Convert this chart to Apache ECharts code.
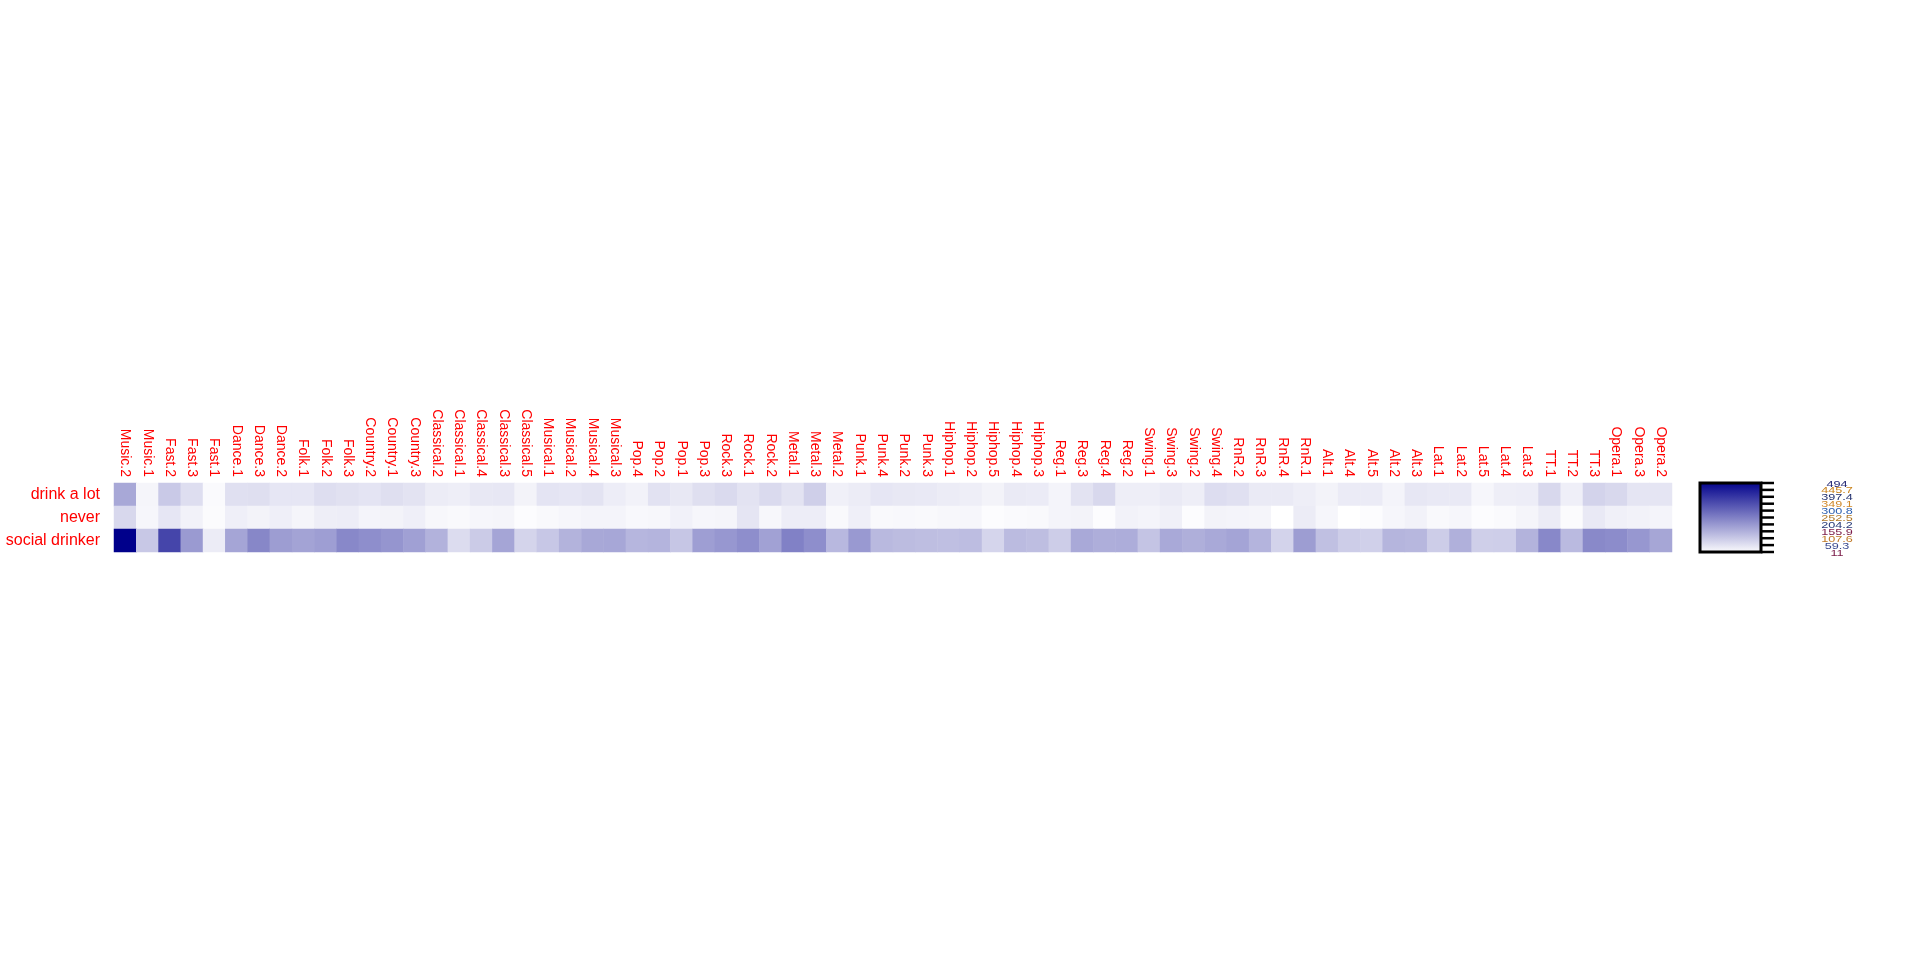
<!DOCTYPE html>
<html>
<head>
<meta charset="utf-8">
<script src="https://cdn.jsdelivr.net/npm/echarts@6/dist/echarts.min.js"></script>
<style>
html,body{margin:0;padding:0;background:#fff;}
#c{width:1920px;height:960px;}
</style>
</head>
<body>
<div id="c"></div>
<script>
const categories = ["Music.2","Music.1","Fast.2","Fast.3","Fast.1","Dance.1","Dance.3","Dance.2","Folk.1","Folk.2","Folk.3","Country.2","Country.1","Country.3","Classical.2","Classical.1","Classical.4","Classical.3","Classical.5","Musical.1","Musical.2","Musical.4","Musical.3","Pop.4","Pop.2","Pop.1","Pop.3","Rock.3","Rock.1","Rock.2","Metal.1","Metal.3","Metal.2","Punk.1","Punk.4","Punk.2","Punk.3","Hiphop.1","Hiphop.2","Hiphop.5","Hiphop.4","Hiphop.3","Reg.1","Reg.3","Reg.4","Reg.2","Swing.1","Swing.3","Swing.2","Swing.4","RnR.2","RnR.3","RnR.4","RnR.1","Alt.1","Alt.4","Alt.5","Alt.2","Alt.3","Lat.1","Lat.2","Lat.5","Lat.4","Lat.3","TT.1","TT.2","TT.3","Opera.1","Opera.3","Opera.2"];
const rows = ["drink a lot","never","social drinker"];

const drinkALot = [176,30,113,73,20,70,72,58,58,73,68,62,72,64,47,43,55,57,34,62,58,64,45,36,66,55,72,81,64,81,64,102,39,47,58,55,53,47,43,34,51,49,32,64,85,43,43,51,43,75,70,51,51,43,34,49,49,32,57,53,53,28,43,45,85,41,95,85,60,60];
const never = [85,28,58,36,19,41,34,41,30,43,45,32,34,41,26,22,28,30,17,22,28,32,32,24,26,38,28,30,60,26,45,45,22,41,22,24,22,26,28,17,20,22,32,34,17,36,32,39,17,34,32,30,11,47,28,11,17,28,36,22,28,17,20,30,47,19,53,39,36,32];
const socialDrinker = [494,115,364,202,47,181,238,197,185,195,236,225,212,191,157,77,110,181,93,117,155,176,178,149,153,119,195,208,225,189,250,225,145,204,144,138,134,132,136,91,140,134,106,174,165,167,123,174,163,174,183,153,95,197,130,106,100,151,147,106,161,102,104,155,236,142,234,229,208,180];

const legendTicks = [494,445.7,397.4,349.1,300.8,252.5,204.2,155.9,107.6,59.3,11];
const legendTickColors = ["#1b1f6e","#c9821a","#22306e","#d0892a","#2b5fb0","#b07a2a","#283a78","#7a1a48","#c07a28","#3a4a90","#7a1a48"];

const valueRows = [drinkALot, never, socialDrinker];
const data = [];
valueRows.forEach((arr, yi) => arr.forEach((v, xi) => data.push([xi, yi, v])));

const vMin = Math.min(...legendTicks), vMax = Math.max(...legendTicks);

// legend geometry
const LX = 1700, LY = 483, LW = 61, LH = 69;
const graphics = [];
graphics.push({
  type: 'rect',
  shape: {x: LX, y: LY, width: LW, height: LH},
  style: {
    fill: new echarts.graphic.LinearGradient(0, 0, 0, 1, [
      {offset: 0, color: '#00008B'},
      {offset: 1, color: '#FFFFFF'}
    ]),
    stroke: '#000', lineWidth: 3
  },
  z: 10
});
legendTicks.forEach((t, i) => {
  const y = LY + (vMax - t) / (vMax - vMin) * LH;
  graphics.push({
    type: 'line',
    shape: {x1: LX + LW, y1: y, x2: LX + LW + 13, y2: y},
    style: {stroke: '#000', lineWidth: 2.5},
    z: 10
  });
  graphics.push({
    type: 'text',
    x: 1837, y: y + 1,
    scaleX: 1.15, scaleY: 0.85,
    style: {
      text: String(t),
      fill: legendTickColors[i],
      font: '11px "Liberation Sans", Arial, sans-serif',
      textAlign: 'center',
      textVerticalAlign: 'middle'
    },
    z: 11
  });
});

const chart = echarts.init(document.getElementById('c'), null, {renderer: 'canvas'});
chart.setOption({
  animation: false,
  backgroundColor: '#ffffff',
  grid: {left: 114, right: 248, top: 483, height: 69, containLabel: false},
  xAxis: {
    type: 'category',
    position: 'top',
    data: categories,
    axisLine: {show: false},
    axisTick: {show: false},
    splitLine: {show: false},
    splitArea: {show: false},
    axisLabel: {
      rotate: 90, interval: 0, color: '#ff0000', fontSize: 14, margin: 6,
      fontFamily: '"Liberation Sans", Arial, sans-serif'
    }
  },
  yAxis: {
    type: 'category',
    inverse: true,
    data: rows,
    axisLine: {show: false},
    axisTick: {show: false},
    splitLine: {show: false},
    axisLabel: {
      color: '#ff0000', fontSize: 16, margin: 14,
      fontFamily: '"Liberation Sans", Arial, sans-serif'
    }
  },
  visualMap: {
    show: false, type: 'continuous', min: vMin, max: vMax, dimension: 2,
    inRange: {color: ['#FFFFFF', '#00008B']}
  },
  series: [{
    type: 'heatmap',
    data: data,
    itemStyle: {borderWidth: 0},
    emphasis: {disabled: true}
  }],
  graphic: graphics
});
</script>
</body>
</html>
